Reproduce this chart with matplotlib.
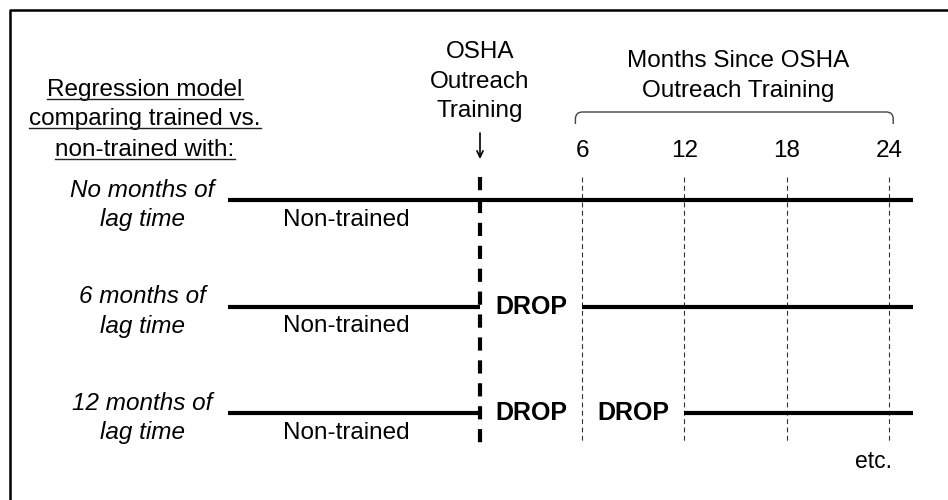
import matplotlib
matplotlib.use('Agg')
import matplotlib.pyplot as plt
from matplotlib.lines import Line2D
from matplotlib.path import Path
from matplotlib.patches import PathPatch

plt.rcParams['font.family'] = ['Liberation Sans', 'DejaVu Sans']
plt.rcParams['lines.scale_dashes'] = False

# text and values of the diagram
header_lines = ['Regression model', 'comparing trained vs.', 'non-trained with:']
training_lines = ['OSHA', 'Outreach', 'Training']
since_lines = ['Months Since OSHA', 'Outreach Training']
row_labels = ['No months of\nlag time', '6 months of\nlag time', '12 months of\nlag time']
lag_months = [0, 6, 12]
month_ticks = [6, 12, 18, 24]
group_label = 'Non-trained'
drop_label = 'DROP'
training_month = 0
line_start = -14.8
line_end = 25.4

# layout (pixels of the 948x500 picture)
W, H = 948, 500
PX_PER_MONTH = 17.04
PX_PER_ROW = 106.5
X0_PX = 480   # training month sits here
Y0_PX = 200   # first row sits here
FS = 17.5


def px_x(px):
    return (px - X0_PX) / PX_PER_MONTH


def px_y(px):
    return (px - Y0_PX) / PX_PER_ROW


fig = plt.figure(figsize=(9.48, 5.0), dpi=100)
ax = fig.add_axes([0, 0, 1, 1])
ax.set_xlim(px_x(0), px_x(W))
ax.set_ylim(px_y(H), px_y(0))
ax.axis('off')

# frame (only left and top visible)
fig.add_artist(Line2D([10 / W, 10 / W, 1], [0, 1 - 10 / H, 1 - 10 / H],
                      color='black', lw=1.8))

# vertical dashed lines
v_top, v_bot = px_y(177), px_y(443)
ax.plot([training_month, training_month], [v_top, v_bot], color='black',
        lw=3, ls=(0, (9.5, 7)), solid_capstyle='butt')
for m in month_ticks:
    ax.plot([m, m], [v_top, v_bot], color='#333333', lw=0.8, ls=(0, (3.5, 2.5)))
    ax.text(m, px_y(157), str(m), ha='center', va='baseline', fontsize=FS)

# the rows
for i, lag in enumerate(lag_months):
    if lag == 0:
        ax.plot([line_start, line_end], [i, i], color='black', lw=3, solid_capstyle='butt')
    else:
        ax.plot([line_start, training_month], [i, i], color='black', lw=3, solid_capstyle='butt')
        ax.plot([lag, line_end], [i, i], color='black', lw=3, solid_capstyle='butt')
        for k in range(training_month, lag, 6):
            ax.text(k + 3, i, drop_label, ha='center', va='center',
                    fontsize=FS + 0.5, fontweight='bold')
    ax.text(px_x(346), i + 20 / PX_PER_ROW, group_label, ha='center', va='center', fontsize=FS)
    ax.text(px_x(142), i + 5 / PX_PER_ROW, row_labels[i], ha='center', va='center',
            fontsize=FS, style='italic', linespacing=1.35)

# training label with arrow
for line, base in zip(training_lines, [58, 88, 117]):
    ax.text(training_month, px_y(base), line, ha='center', va='baseline', fontsize=FS)
ax.annotate('', xy=(training_month, px_y(159)), xytext=(training_month, px_y(133)),
            arrowprops=dict(arrowstyle='->,head_length=0.45,head_width=0.22',
                            color='black', lw=1.2, shrinkA=0, shrinkB=0))

# months since training label with bracket
for line, base in zip(since_lines, [67, 97]):
    ax.text(px_x(738), px_y(base), line, ha='center', va='baseline', fontsize=FS)
bx0, bx1 = month_ticks[0] - 0.4, month_ticks[-1] + 0.25
by0, by1 = px_y(112), px_y(124)
rx, ry = 7 / PX_PER_MONTH, 7 / PX_PER_ROW
verts = [(bx0, by1), (bx0, by0 + ry), (bx0, by0), (bx0 + rx, by0),
         (bx1 - rx, by0), (bx1, by0), (bx1, by0 + ry), (bx1, by1)]
codes = [Path.MOVETO, Path.LINETO, Path.CURVE3, Path.CURVE3,
         Path.LINETO, Path.CURVE3, Path.CURVE3, Path.LINETO]
ax.add_patch(PathPatch(Path(verts, codes), fill=False, edgecolor='#444444', lw=1))

ax.text(px_x(874), px_y(468), 'etc.', ha='center', va='baseline', fontsize=FS - 1)

# underlined header
header_texts = []
for line, base in zip(header_lines, [96, 124.5, 155.5]):
    t = ax.text(px_x(145), px_y(base), line, ha='center', va='baseline', fontsize=FS)
    header_texts.append((t, base))
fig.canvas.draw()
for t, base in header_texts:
    bb = t.get_window_extent()
    y = 1 - (base + 3) / H
    fig.add_artist(Line2D([bb.x0 / W, bb.x1 / W], [y, y], color='#222222', lw=1))

fig.savefig('out.png', dpi=100)
